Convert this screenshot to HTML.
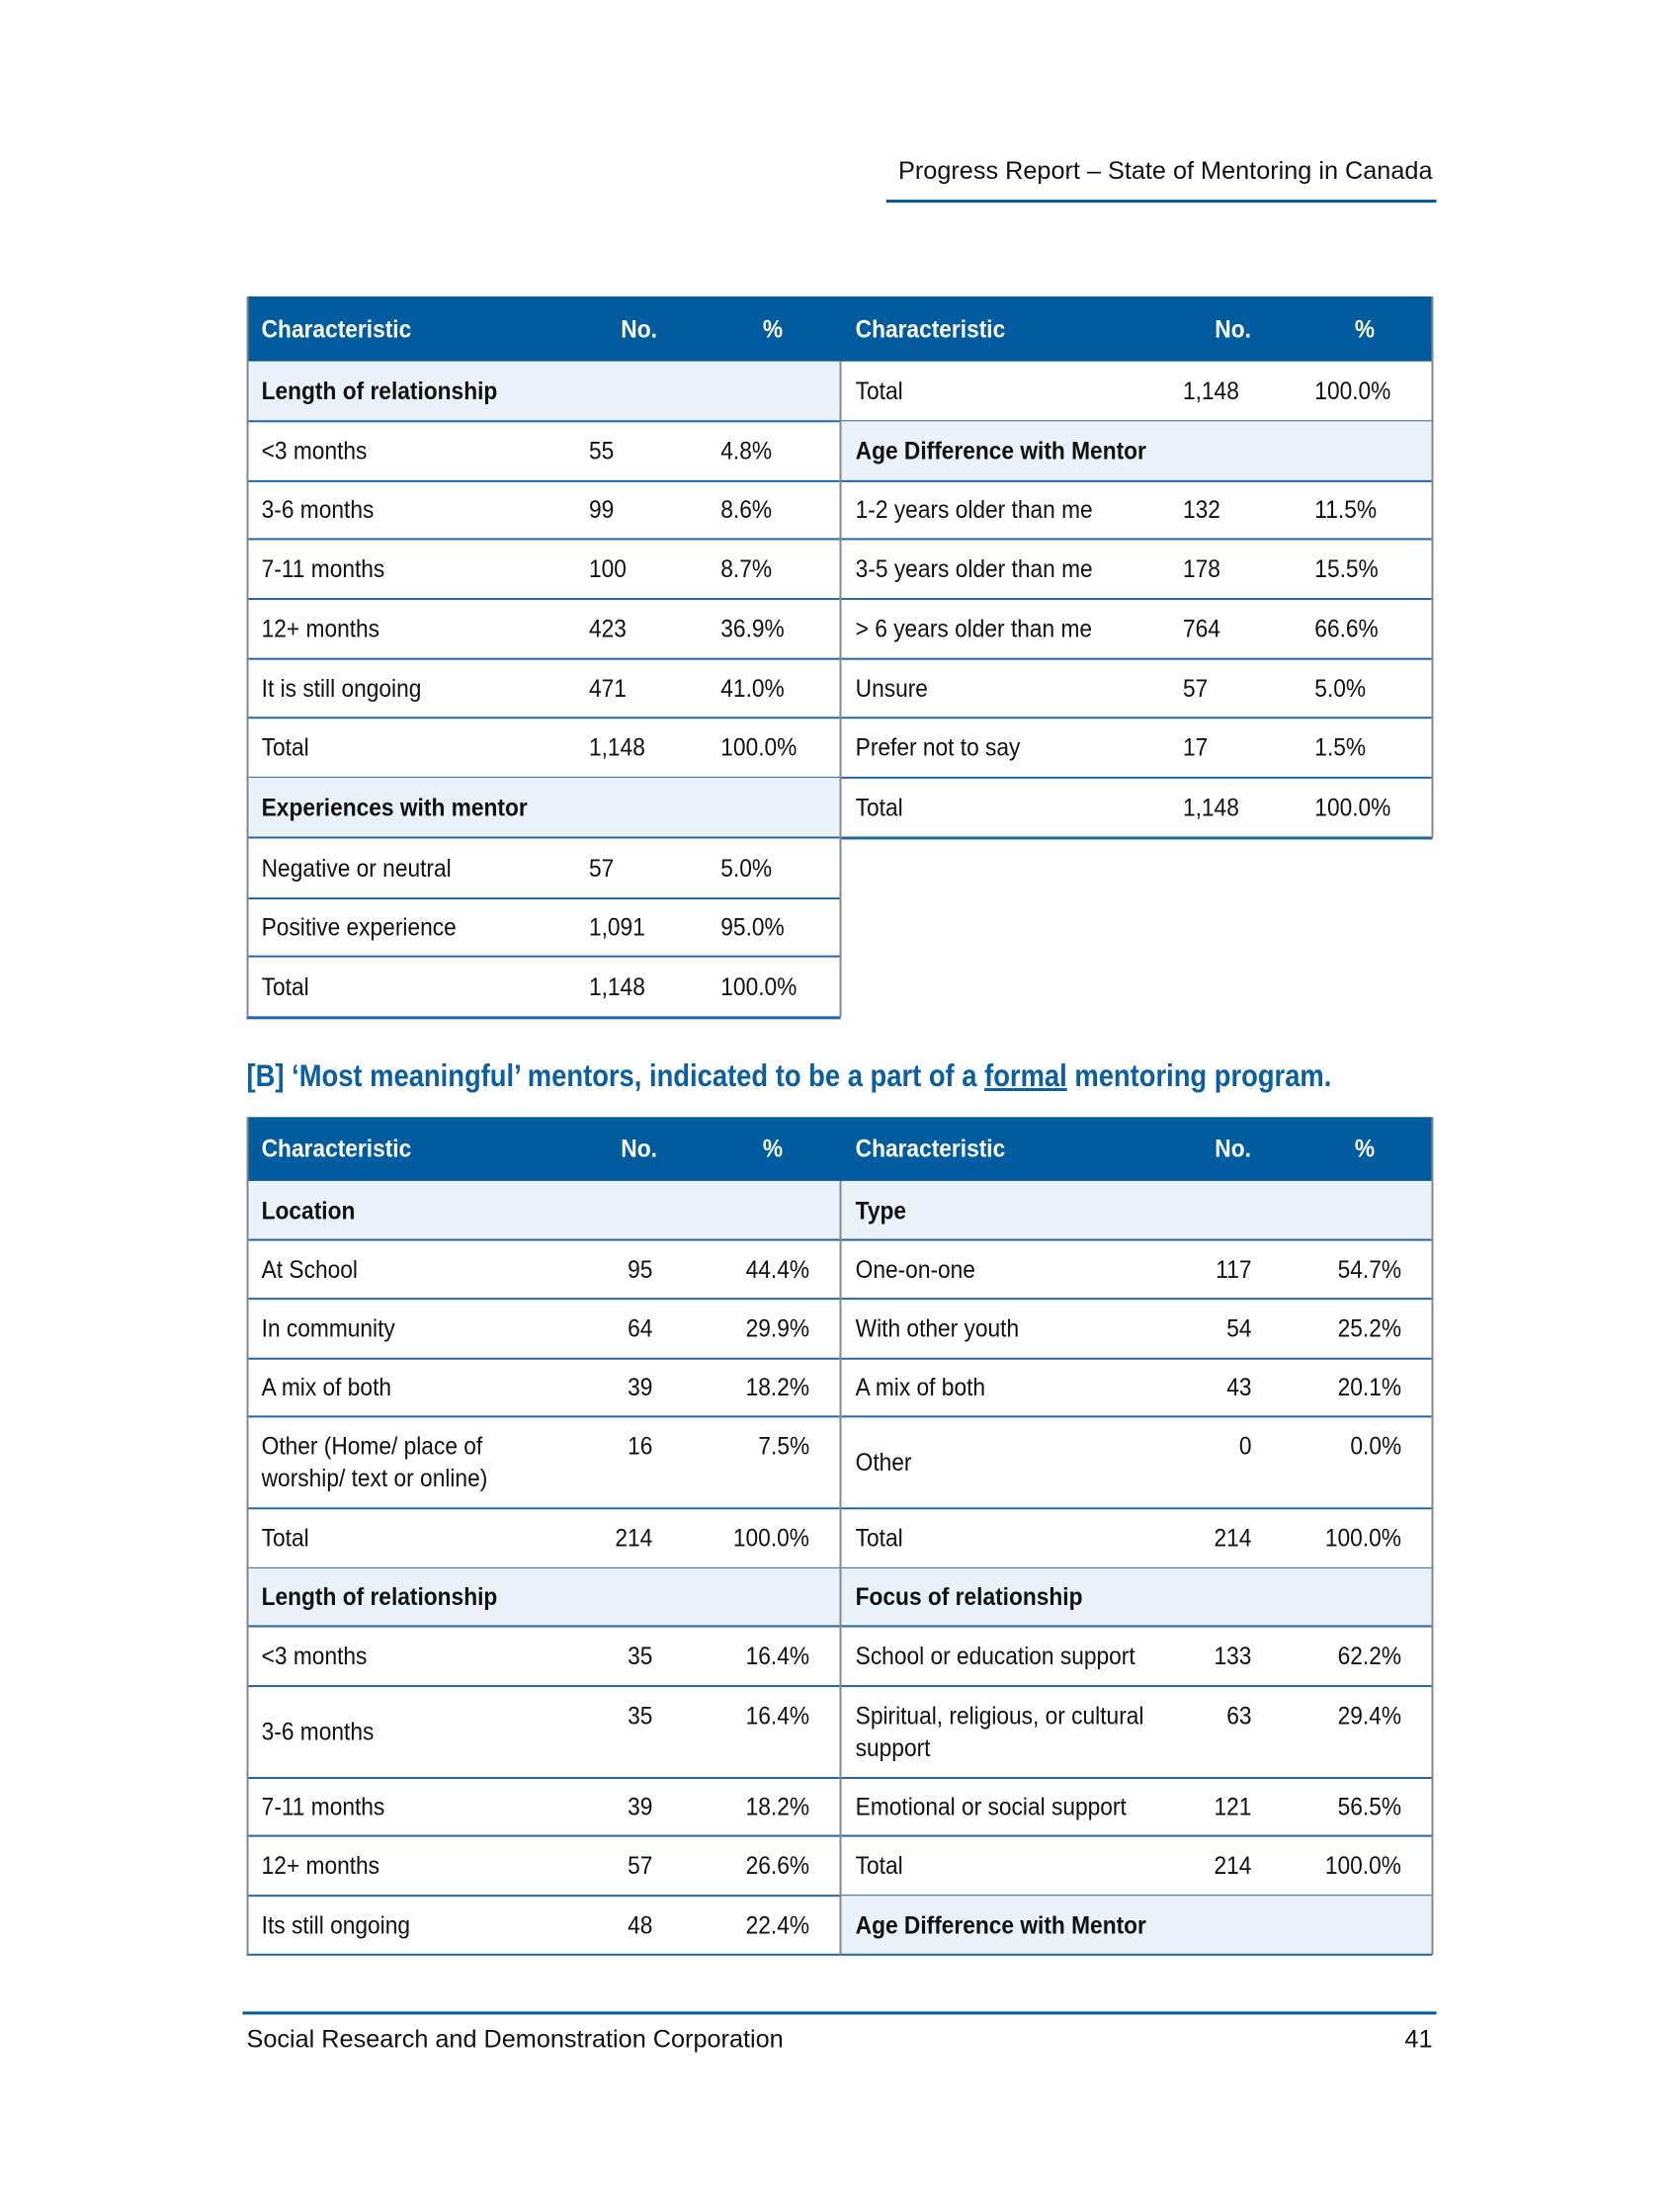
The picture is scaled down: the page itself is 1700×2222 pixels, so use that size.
<!DOCTYPE html>
<html><head><meta charset="utf-8">
<style>
body{margin:0;width:1700px;height:2200px;background:#fff;position:relative;overflow:hidden;font-family:"Liberation Sans",Arial,sans-serif;}
#wrap{position:absolute;left:0;top:0;width:1700px;height:2200px;transform:scale(1.0101);transform-origin:0 0;}
.a{position:absolute;}
.c{position:absolute;display:flex;align-items:center;font-size:25px;color:#111;white-space:nowrap;}
.c span{display:inline-block;transform:scaleX(0.9);}
.L span{transform-origin:left center;}
.R{justify-content:flex-end;} .R span{transform-origin:right center;}
.C{justify-content:center;}
.b{font-weight:bold;}
.w{color:#fff;font-weight:bold;}
</style></head><body>
<div id="wrap">
<div class="a" style="right:265px;top:157px;font-size:25px;color:#111;">Progress Report – State of Mentoring in Canada</div>
<div class="a" style="left:888px;top:200px;width:551px;height:3px;background:#005c9e;"></div>
<div class="a" style="left:247px;top:1060px;font-size:31px;font-weight:bold;color:#0a5ea3;white-space:nowrap;transform:scaleX(0.874);transform-origin:left top;">[B] ‘Most meaningful’ mentors, indicated to be a part of a <u>formal</u> mentoring program.</div>
<div class="a" style="left:243px;top:2015px;width:1196px;height:3px;background:#005c9e;"></div>
<div class="a" style="left:247px;top:2029px;font-size:25px;color:#111;white-space:nowrap;">Social Research and Demonstration Corporation</div>
<div class="a" style="right:265px;top:2029px;font-size:25px;color:#111;">41</div>
<div id="root"></div>
</div>
<script>
// Table A left
const aLeftLabels=["Length of relationship","<3 months","3-6 months","7-11 months","12+ months","It is still ongoing","Total","Experiences with mentor","Negative or neutral","Positive experience","Total"];
const aLeftNo=["","55","99","100","423","471","1,148","","57","1,091","1,148"];
const aLeftPct=["","4.8%","8.6%","8.7%","36.9%","41.0%","100.0%","","5.0%","95.0%","100.0%"];
const aLeftSec=[1,0,0,0,0,0,0,1,0,0,0];
const aLeftY=[362,422,482,540,600,660,719,779,839,900,958,1019];
// Table A right
const aRightLabels=["Total","Age Difference with Mentor","1-2 years older than me","3-5 years older than me","> 6 years older than me","Unsure","Prefer not to say","Total"];
const aRightNo=["1,148","","132","178","764","57","17","1,148"];
const aRightPct=["100.0%","","11.5%","15.5%","66.6%","5.0%","1.5%","100.0%"];
const aRightSec=[0,1,0,0,0,0,0,0];
const aRightY=[362,422,482,540,600,660,719,779,839];
// Table B left
const bLeftLabels=["Location","At School","In community","A mix of both","Other (Home/ place of<br>worship/ text or online)","Total","Length of relationship","<3 months","3-6 months","7-11 months","12+ months","Its still ongoing"];
const bLeftNo=["","95","64","39","16","214","","35","35","39","57","48"];
const bLeftPct=["","44.4%","29.9%","18.2%","7.5%","100.0%","","16.4%","16.4%","18.2%","26.6%","22.4%"];
const bLeftSec=[1,0,0,0,0,0,1,0,0,0,0,0];
const bY=[1183,1242,1301,1361,1419,1511,1571,1629,1689,1781,1839,1899,1958];
// Table B right
const bRightLabels=["Type","One-on-one","With other youth","A mix of both","Other","Total","Focus of relationship","School or education support","Spiritual, religious, or cultural<br>support","Emotional or social support","Total","Age Difference with Mentor"];
const bRightNo=["","117","54","43","0","214","","133","63","121","214",""];
const bRightPct=["","54.7%","25.2%","20.1%","0.0%","100.0%","","62.2%","29.4%","56.5%","100.0%",""];
const bRightSec=[1,0,0,0,0,0,1,0,0,0,0,1];

const root=document.getElementById('root');
function box(x,y,w,h,bg,name){const d=document.createElement('div');d.className='a';
d.style.cssText=`left:${x}px;top:${y}px;width:${w}px;height:${h}px;background:${bg}`;


root.appendChild(d);return d;}
function cell(cls,x,y,w,h,html,name,padTop){const d=document.createElement('div');d.className='c '+cls;
d.style.cssText=`left:${x}px;top:${y}px;width:${w}px;height:${h}px;`+(padTop?'align-items:flex-start;line-height:60px;':'line-height:32px;');
d.innerHTML='<span>'+html+'</span>';


root.appendChild(d);}
function header(x,y,w,h,noC,pcC,name){box(x,y,w,h,'#005c9e',name);
cell('L w',x+15,y,300,h,'Characteristic',name+'-characteristic');
cell('C w',x+noC-50,y,100,h,'No.',name+'-no');
cell('C w',x+pcC-50,y,100,h,'%',name+'-pct');}
function body(x,w,ys,labels,nos,pcts,secs,mode,name,thick){
 for(let i=0;i<labels.length;i++){const y=ys[i],h=ys[i+1]-ys[i];
  if(secs[i])box(x,y,w,h,'#eaf1f9',name+'-section-bg');
  box(x,y+h-1,w,thick&&i==labels.length-1?3:1.5,'#2466a8',name+'-row-rule');
  const tall=h>70;
  cell('L'+(secs[i]?' b':''),x+15,y,330,h,labels[i],name+'-label');
  if(mode=='left'){cell('L',x+343,y,120,tall?60:h,nos[i],name+'-no',tall);cell('L',x+475,y,120,tall?60:h,pcts[i],name+'-pct',tall);}
  else{cell('R',x+mode[0]-120,y,120,tall?60:h,nos[i],name+'-no',tall);cell('R',x+mode[1]-120,y,120,tall?60:h,pcts[i],name+'-pct',tall);}
 }}
header(247,297,595,65,393,527,'table-a-left-header');
header(842,297,593,65,393,525,'table-a-right-header');
body(247,595,aLeftY,aLeftLabels,aLeftNo,aLeftPct,aLeftSec,'left','table-a-left',true);
body(842,593,aRightY,aRightLabels,aRightNo,aRightPct,aRightSec,'left','table-a-right',true);
box(247,297,1.5,722,'#888','table-a-left-border');
box(841,362,1.5,657,'#888','table-a-divider');
box(1434,297,1.5,542,'#888','table-a-right-border');
header(247,1119,595,64,393,527,'table-b-left-header');
header(842,1119,593,64,393,525,'table-b-right-header');
body(247,595,bY,bLeftLabels,bLeftNo,bLeftPct,bLeftSec,[407,564],'table-b-left',false);
body(842,593,bY,bRightLabels,bRightNo,bRightPct,bRightSec,[412,562],'table-b-right',false);
box(247,1119,1.5,839,'#888','table-b-left-border');
box(841,1183,1.5,775,'#888','table-b-divider');
box(1434,1119,1.5,839,'#888','table-b-right-border');
</script>
</body></html>
